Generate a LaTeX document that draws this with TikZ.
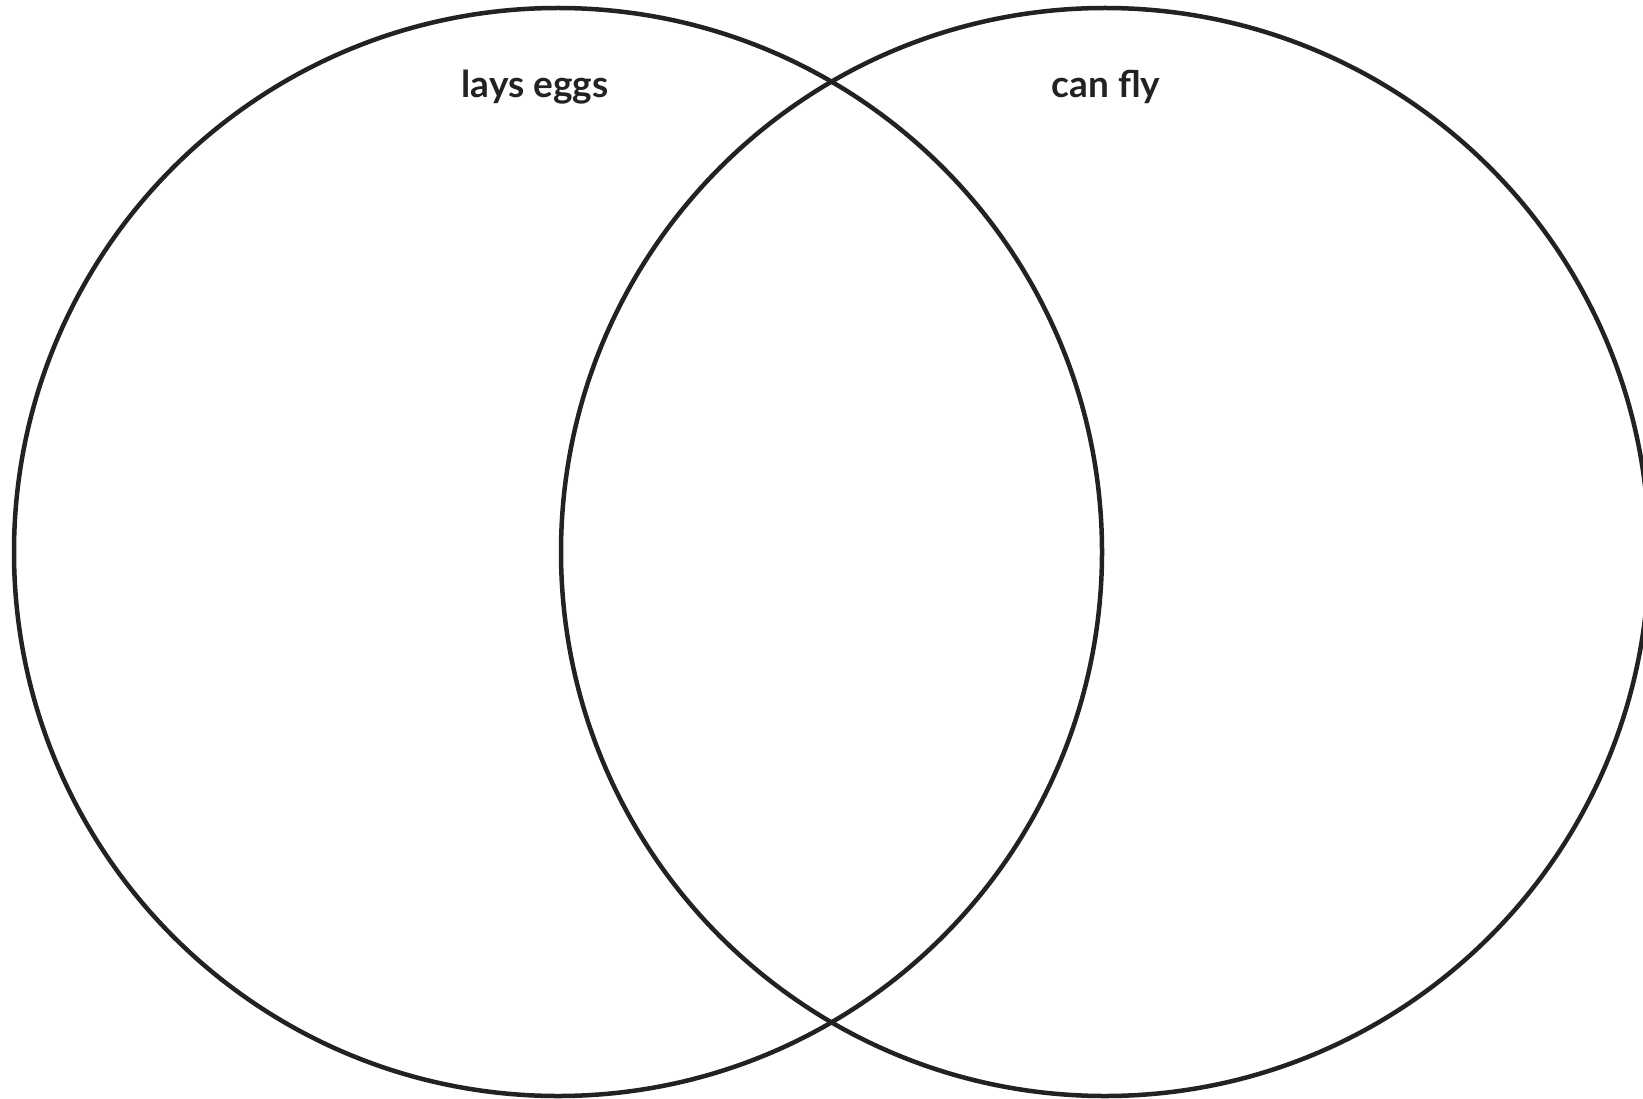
\documentclass[tikz,border=0pt]{standalone}
\usepackage{fontspec}
\setmainfont{Lato}
\definecolor{ink}{HTML}{222222}
\begin{document}
\begin{tikzpicture}[x=1pt,y=-1pt,
  ring/.style={draw=ink,line width=4.5pt},
  setlabel/.style={text=ink,font=\fontsize{37}{42}\selectfont\bfseries,inner sep=0pt}]
\useasboundingbox (0,0) rectangle (1643,1099);
\clip (0,0) rectangle (1643,1099);
\fill[white] (0,0) rectangle (1643,1099);
\draw[ring] (558,552) circle[radius=544];
\draw[ring] (1105,552) circle[radius=544];
\node[setlabel,anchor=base] (eggs) at (535,98) {lays eggs};
\node[setlabel,anchor=base] (fly) at (1106,98) {can fly};
\end{tikzpicture}
\end{document}
